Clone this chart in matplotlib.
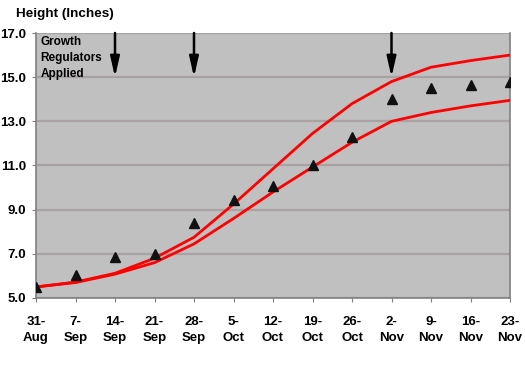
import matplotlib
matplotlib.use("Agg")
import matplotlib.pyplot as plt

dates = ["31-\nAug", "7-\nSep", "14-\nSep", "21-\nSep", "28-\nSep", "5-\nOct", "12-\nOct",
         "19-\nOct", "26-\nOct", "2-\nNov", "9-\nNov", "16-\nNov", "23-\nNov"]
observed = [5.5, 6.05, 6.85, 7.0, 8.4, 9.45, 10.05, 11.0, 12.3, 14.0, 14.5, 14.65, 14.8]
upper = [5.5, 5.72, 6.12, 6.8, 7.75, 9.25, 10.85, 12.45, 13.8, 14.8, 15.45, 15.75, 16.0]
lower = [5.5, 5.7, 6.08, 6.6, 7.45, 8.6, 9.8, 10.93, 12.05, 13.0, 13.4, 13.7, 13.95]
applied_idx = [2, 4, 9]
yticks = [5.0, 7.0, 9.0, 11.0, 13.0, 15.0, 17.0]

plt.rcParams['font.family'] = ['Liberation Sans', 'DejaVu Sans']

fig = plt.figure(figsize=(5.25, 3.65), dpi=100)
ax = fig.add_axes([36/525, 1-298/365, (510-36)/525, (298-33)/365])
ax.set_facecolor('#c0c0c0')

x = list(range(len(dates)))
ax.set_xlim(0, len(dates)-1)
ax.set_ylim(5, 17)

for v in yticks:
    ax.axhline(v, color='#a8a2a2', lw=1.6, zorder=1)

ax.plot(x, upper, color='#ff0000', lw=2.0, zorder=3)
ax.plot(x, lower, color='#ff0000', lw=2.0, zorder=3)
ax.plot(x, observed, linestyle='none', marker='^', color='#111111', markersize=7.5, zorder=4)

for i in applied_idx:
    ax.annotate('', xy=(x[i], 15.0), xytext=(x[i], 17.0),
                arrowprops=dict(arrowstyle='-|>,head_length=0.75,head_width=0.17', color='black', lw=1.8,
                                mutation_scale=16, shrinkA=0, shrinkB=0), zorder=5)

ax.text(0.12, 16.85, "Growth\nRegulators\nApplied", fontsize=8.5, fontweight='bold',
        va='top', ha='left', linespacing=1.45, zorder=6)

ax.set_yticks(yticks)
ax.set_yticklabels([f"{v:.1f}" for v in yticks], fontsize=9.5, fontweight='bold')
ax.set_xticks(x)
ax.set_xticklabels(dates, fontsize=9.5, fontweight='bold', linespacing=1.4)
ax.tick_params(axis='x', length=3, color='#808080', pad=10)
ax.tick_params(axis='y', length=3, color='#808080', pad=4)

for s in ['left', 'bottom', 'right']:
    ax.spines[s].set_color('#808080')
    ax.spines[s].set_linewidth(1.2)
ax.spines['top'].set_visible(False)

fig.text(16/525, 1-14/365, "Height (Inches)", fontsize=9.7, fontweight='bold', va='center', ha='left')

fig.savefig("out.png", dpi=100, facecolor='white')
